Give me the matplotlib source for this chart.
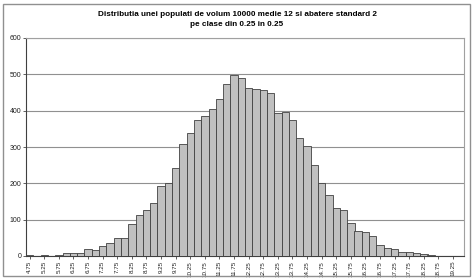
import numpy as np
import matplotlib
matplotlib.use("Agg")
import matplotlib.pyplot as plt
from matplotlib.patches import Rectangle

# class lower bounds, step 0.25
classes = [4.75 + 0.25 * i for i in range(60)]
counts = [3, 1, 2, 0, 3, 9, 9, 7, 18, 17,
          27, 37, 50, 50, 88, 113, 127, 146, 193, 202,
          241, 307, 339, 374, 386, 405, 431, 474, 499, 489,
          463, 460, 457, 448, 394, 397, 375, 325, 302, 251,
          200, 169, 132, 126, 90, 69, 67, 56, 30, 23,
          18, 11, 11, 8, 5, 4, 1, 1, 1, 1]
yticks = [0, 100, 200, 300, 400, 500, 600]
title = ("Distributia unei populati de volum 10000 medie 12 si abatere standard 2\n"
         "pe clase din 0.25 in 0.25")

plt.rcParams["font.family"] = ["Liberation Sans", "DejaVu Sans"]

fig = plt.figure(figsize=(4.74, 2.79), dpi=100)
ax = fig.add_axes([26 / 474, 1 - 256 / 279, 438 / 474, 218 / 279])

x = np.arange(len(counts))
ax.bar(x, counts, width=1.0, color="#c0c0c0", edgecolor="#404040", linewidth=0.6, zorder=3)

ax.set_xlim(-0.5, len(counts) - 0.5)
ax.set_ylim(0, 600)
ax.set_yticks(yticks)
ax.set_yticklabels([str(v) for v in yticks], fontsize=5)
ax.yaxis.grid(True, color="#909090", linewidth=0.8, zorder=0)

ax.set_xticks(x[::2])
ax.set_xticklabels([f"{c:g}" for c in classes[::2]], rotation=90, fontsize=4.5)
ax.tick_params(axis="x", length=2, width=0.5, pad=1.5, colors="#202020")
ax.tick_params(axis="y", length=2, width=0.5, pad=1.5, colors="#202020")

for side in ["top", "right"]:
    ax.spines[side].set_color("#a0a0a0")
    ax.spines[side].set_linewidth(0.8)
ax.spines["left"].set_color("#404040")
ax.spines["bottom"].set_color("#404040")
ax.spines["left"].set_linewidth(0.8)
ax.spines["bottom"].set_linewidth(0.8)

fig.text(0.5, 1 - 19.5 / 279, title, ha="center", va="center",
         fontsize=5.9, fontweight="bold", linespacing=1.75)

fig.patches.append(Rectangle((3 / 474, 3 / 279), 467 / 474, 272 / 279,
                             transform=fig.transFigure, fill=False,
                             edgecolor="#909090", linewidth=1.0))

fig.savefig("out.png", dpi=100)
